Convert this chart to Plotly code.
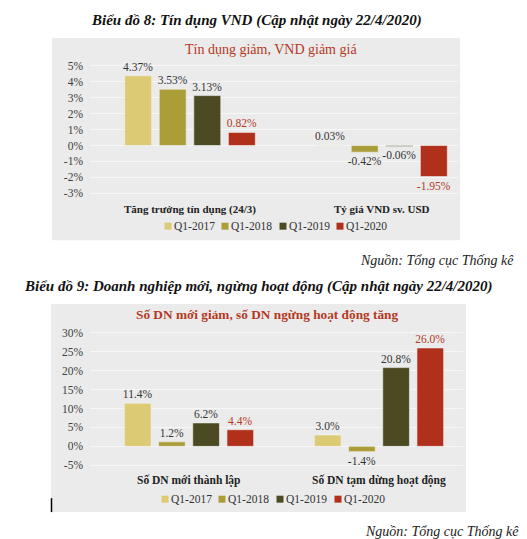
import plotly.graph_objects as go

W, H = 527, 539

# ---------------- data ----------------
series = ["Q1-2017", "Q1-2018", "Q1-2019", "Q1-2020"]
colors = ["#dccb74", "#ab9d38", "#4b4a22", "#b1301b"]

cats1 = ["Tăng trưởng tín dụng (24/3)", "Tỷ giá VND sv. USD"]
vals1 = {
    "Q1-2017": [4.37, 0.03],
    "Q1-2018": [3.53, -0.42],
    "Q1-2019": [3.13, -0.06],
    "Q1-2020": [0.82, -1.95],
}
ticks1 = [5, 4, 3, 2, 1, 0, -1, -2, -3]

cats2 = ["Số DN mới thành lập", "Số DN tạm dừng hoạt động"]
vals2 = {
    "Q1-2017": [11.4, 3.0],
    "Q1-2018": [1.2, -1.4],
    "Q1-2019": [6.2, 20.8],
    "Q1-2020": [4.4, 26.0],
}
ticks2 = [30, 25, 20, 15, 10, 5, 0, -5]

title1 = "Biểu đồ 8: Tín dụng VND (Cập nhật ngày 22/4/2020)"
subtitle1 = "Tín dụng giảm, VND giảm giá"
title2 = "Biểu đồ 9: Doanh nghiệp mới, ngừng hoạt động (Cập nhật ngày 22/4/2020)"
subtitle2 = "Số DN mới giảm, số DN ngừng hoạt động tăng"
source = "Nguồn: Tổng cục Thống kê"

# ---------------- helpers ----------------
FONT = "Liberation Serif"
RED = "#b5391f"
TXT = "#333333"


def fx(px):
    return px / W


def fy(py):
    return 1 - py / H


fig = go.Figure()

# bars
for i, s in enumerate(series):
    lab_col = RED if s == "Q1-2020" else TXT
    fig.add_trace(go.Bar(
        x=cats1, y=vals1[s], name=s, marker_color=colors[i],
        marker_line=dict(width=0.6, color="#f4f4f4"),
        texttemplate="%{y:.2f}%", textposition="outside",
        textfont=dict(family=FONT, size=11.5, color=lab_col),
        constraintext="none", cliponaxis=False,
        xaxis="x", yaxis="y", showlegend=False, offsetgroup=s,
    ))
    fig.add_trace(go.Bar(
        x=cats2, y=vals2[s], name=s, marker_color=colors[i],
        marker_line=dict(width=0.6, color="#f4f4f4"),
        texttemplate="%{y:.1f}%", textposition="outside",
        textfont=dict(family=FONT, size=11.5, color=lab_col),
        constraintext="none", cliponaxis=False,
        xaxis="x2", yaxis="y2", showlegend=False, offsetgroup=s,
    ))

# axes geometry (pixels)
# chart 1: zero at y=138, 16 px per 1%
y1_top, y1_bot = 50, 194
x1_l, x1_r = 82, 450
c1a, c1b = 182, 374
# chart 2: zero at y=440, 3.8 px per 1%
y2_top, y2_bot = 318.4, 462.8
x2_l, x2_r = 82, 455
c2a, c2b = 181, 371

sp1 = c1b - c1a
sp2 = c2b - c2a

tickfont = dict(family=FONT, size=11.5, color="#404040")

fig.update_layout(
    width=W, height=H, margin=dict(l=0, r=0, t=0, b=0),
    paper_bgcolor="white", plot_bgcolor="rgba(0,0,0,0)",
    barmode="group", bargap=0.28, bargroupgap=0.22,
    showlegend=False,
    xaxis=dict(domain=[fx(x1_l), fx(x1_r)], anchor="y",
               range=[-(c1a - x1_l) / sp1, 1 + (x1_r - c1b) / sp1],
               showticklabels=False, showgrid=False, zeroline=False, fixedrange=True),
    yaxis=dict(domain=[fy(y1_bot), fy(y1_top)], anchor="x",
               range=[-(y1_bot - 138) / 16, (138 - y1_top) / 16],
               tickvals=ticks1, ticktext=[f"{t}%" for t in ticks1],
               tickfont=tickfont, showgrid=True, gridcolor="#f7f7f7", gridwidth=1,
               zeroline=False, ticklabelstandoff=6),
    xaxis2=dict(domain=[fx(x2_l), fx(x2_r)], anchor="y2",
                range=[-(c2a - x2_l) / sp2, 1 + (x2_r - c2b) / sp2],
                showticklabels=False, showgrid=False, zeroline=False),
    yaxis2=dict(domain=[fy(y2_bot), fy(y2_top)], anchor="x2",
                range=[-(y2_bot - 440) / 3.8, (440 - y2_top) / 3.8],
                tickvals=ticks2, ticktext=[f"{t}%" for t in ticks2],
                tickfont=tickfont, showgrid=True, gridcolor="#f7f7f7", gridwidth=1,
                zeroline=False, ticklabelstandoff=6),
)

shapes = [
    dict(type="rect", xref="paper", yref="paper", x0=fx(44), x1=fx(452), y0=fy(233), y1=fy(30),
         fillcolor="#ebebeb", line=dict(width=0), layer="below"),
    dict(type="rect", xref="paper", yref="paper", x0=fx(43), x1=fx(458), y0=fy(506), y1=fy(297),
         fillcolor="#ebebeb", line=dict(width=0), layer="below"),
    dict(type="line", xref="paper", yref="paper", x0=fx(43.5), x1=fx(43.5), y0=fy(506), y1=fy(492),
         line=dict(width=1.5, color="black")),
]

annotations = []


def ann(text, x, y, size, color="#111111", xanchor="center", bold=False, italic=False, xref="paper"):
    t = text
    if bold:
        t = f"<b>{t}</b>"
    if italic:
        t = f"<i>{t}</i>"
    annotations.append(dict(text=t, x=x if xref != "paper" else fx(x), y=fy(y), xref=xref, yref="paper",
                            xanchor=xanchor, yanchor="middle", showarrow=False, borderpad=0,
                            font=dict(family=FONT, size=size, color=color)))


ann(title1, 248, 13, 15, bold=True, italic=True)
ann(subtitle1, 263, 42, 14, color=RED)
ann(source, 507, 253, 14, color="#222222", xanchor="right", italic=True)
ann(title2, 250, 280, 15, bold=True, italic=True)
ann(subtitle2, 259, 308, 13.3, color=RED, bold=True)
ann(source, 512, 525, 14, color="#222222", xanchor="right", italic=True)

# category labels
for c in cats1:
    ann(c, c, 202, 11, color="#222222", bold=True, xref="x")
for c in cats2:
    ann(c, c, 474, 11.5, color="#222222", bold=True, xref="x2")

# manual legends
for legy, xs in ((219, [160, 217, 275, 332]), (493, [157, 214, 272, 330])):
    for i, s in enumerate(series):
        shapes.append(dict(type="rect", xref="paper", yref="paper",
                           x0=fx(xs[i] - 3.5), x1=fx(xs[i] + 3.5), y0=fy(legy + 3.5), y1=fy(legy - 3.5),
                           fillcolor=colors[i], line=dict(width=0)))
        ann(s, xs[i] + 5, legy, 11.5, color="#333333", xanchor="left")

fig.update_layout(shapes=shapes, annotations=annotations)

fig.write_html("out.html")
